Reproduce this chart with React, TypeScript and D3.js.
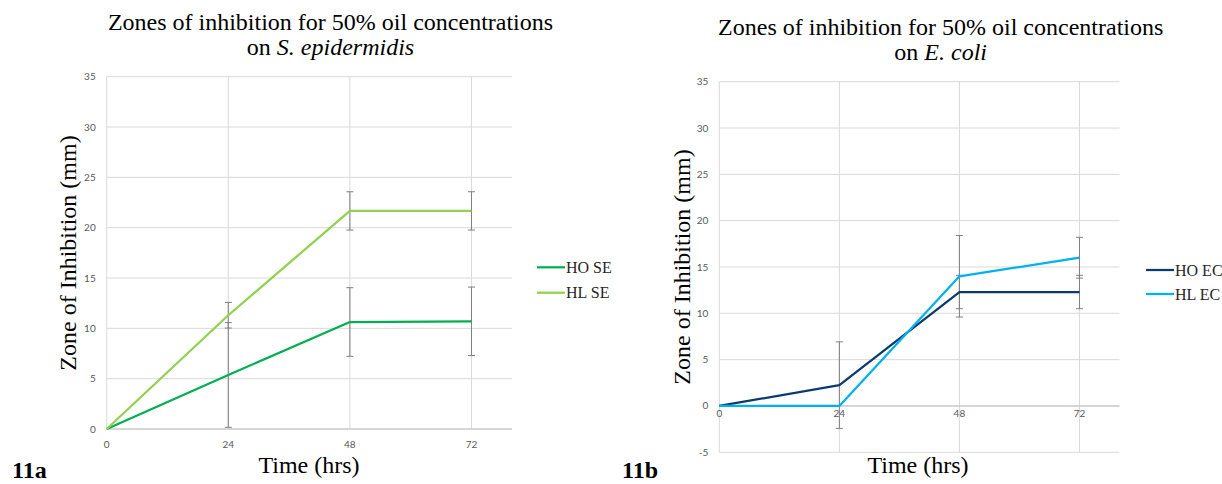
import React from 'react';
import * as d3 from 'd3';

// time points (hrs)
const hours = [0, 24, 48, 72];
const xTicks = [0, 24, 48, 72];

// S. epidermidis
const hoSE = [0, 5.37, 10.63, 10.7];
const hoSEErr = [0, 5.2, 3.41, 3.4];
const hlSE = [0, 11.3, 21.67, 21.67];
const hlSEErr = [0, 1.27, 1.9, 1.9];
const seTicks = [0, 5, 10, 15, 20, 25, 30, 35];

// E. coli
const hoEC = [0, 2.25, 12.3, 12.3];
const hoECErr = [0, 4.67, 1.8, 1.8];
const hlEC = [0, 0, 14.0, 16.0];
const hlECErr = [0, 0, 4.4, 2.2];
const ecTicks = [-5, 0, 5, 10, 15, 20, 25, 30, 35];

const SERIF = '"Liberation Serif", Tinos, "Times New Roman", serif';
const SANS = 'Lato, "Liberation Sans", sans-serif';

type Series = { name: string; values: number[]; err: number[]; color: string };

type PanelProps = {
  species: string;
  series: Series[];
  yTicks: number[];
  box: { left: number; right: number; top: number; bottom: number };
  titleX: number;
  titleY: number;
  yTitleX: number;
  yTitleY: number;
  xTitleX: number;
  xLabelDy: number;
  legendX: number;
  legendY: number;
  legendGap: number;
  tag: string;
  tagX: number;
};

function Panel(p: PanelProps) {
  const { box } = p;
  const x = d3.scaleLinear().domain([0, 80]).range([box.left, box.right]);
  const y = d3
    .scaleLinear()
    .domain([d3.min(p.yTicks) as number, d3.max(p.yTicks) as number])
    .range([box.bottom, box.top]);

  const line = d3
    .line<number>()
    .x((_, i) => x(hours[i]))
    .y((d) => y(d));

  const y0 = y(0);

  return (
    <g>
      {/* title */}
      <text x={p.titleX} y={p.titleY} textAnchor="middle" fontFamily={SERIF} fontSize={24} fill="#000">
        Zones of inhibition for 50% oil concentrations
      </text>
      <text x={p.titleX} y={p.titleY + 25} textAnchor="middle" fontFamily={SERIF} fontSize={24} fill="#000">
        on <tspan fontStyle="italic">{p.species}</tspan>
      </text>

      {/* grid */}
      {p.yTicks.map((t) => (
        <line key={'h' + t} x1={box.left} x2={box.right} y1={y(t)} y2={y(t)} stroke="#d9d9d9" strokeWidth={1} />
      ))}
      {xTicks.map((t) => (
        <line key={'v' + t} x1={x(t)} x2={x(t)} y1={box.top} y2={box.bottom} stroke="#d9d9d9" strokeWidth={1} />
      ))}
      <line x1={box.left} x2={box.right} y1={y0} y2={y0} stroke="#bfbfbf" strokeWidth={1.2} />

      {/* tick labels */}
      {p.yTicks.map((t) => (
        <text key={'yl' + t} x={box.left - 11} y={y(t) + 3.5} textAnchor="end" fontFamily={SANS} fontSize={10} fill="#595959">
          {t}
        </text>
      ))}
      {xTicks.map((t) => (
        <text key={'xl' + t} x={x(t)} y={y0 + p.xLabelDy} textAnchor="middle" fontFamily={SANS} fontSize={10} fill="#595959">
          {t}
        </text>
      ))}

      {/* error bars */}
      {p.series.map((s) =>
        s.values.map((v, i) => {
          if (!s.err[i]) return null;
          const cx = x(hours[i]);
          const hi = y(v + s.err[i]);
          const lo = y(v - s.err[i]);
          return (
            <g key={s.name + 'e' + i} stroke="#7f7f7f" strokeWidth={1}>
              <line x1={cx} x2={cx} y1={hi} y2={lo} />
              <line x1={cx - 3.5} x2={cx + 3.5} y1={hi} y2={hi} />
              <line x1={cx - 3.5} x2={cx + 3.5} y1={lo} y2={lo} />
            </g>
          );
        })
      )}

      {/* lines */}
      {p.series.map((s) => (
        <path key={s.name} d={line(s.values) || ''} fill="none" stroke={s.color} strokeWidth={2.25} strokeLinejoin="round" />
      ))}

      {/* legend */}
      {p.series.map((s, i) => (
        <g key={'lg' + s.name} transform={`translate(${p.legendX},${p.legendY + i * p.legendGap})`}>
          <line x1={0} x2={28} y1={0} y2={0} stroke={s.color} strokeWidth={2.25} />
          <text x={29} y={5.5} fontFamily={SERIF} fontSize={16} fill="#262626">
            {s.name}
          </text>
        </g>
      ))}

      {/* axis titles */}
      <text
        transform={`translate(${p.yTitleX},${p.yTitleY}) rotate(-90)`}
        textAnchor="middle"
        fontFamily={SERIF}
        fontSize={24}
        fill="#000"
      >
        Zone of Inhibition (mm)
      </text>
      <text x={p.xTitleX} y={473} textAnchor="middle" fontFamily={SERIF} fontSize={24} fill="#000">
        Time (hrs)
      </text>
      <text x={p.tagX} y={478} fontFamily={SERIF} fontWeight="bold" fontSize={24} fill="#000">
        {p.tag}
      </text>
    </g>
  );
}

export default function App() {
  return (
    <div style={{ position: 'absolute', left: 0, top: 0 }}>
      <svg width={1222} height={484} style={{ display: 'block', background: '#fff' }}>
        <Panel
          species="S. epidermidis"
          series={[
            { name: 'HO SE', values: hoSE, err: hoSEErr, color: '#00b050' },
            { name: 'HL SE', values: hlSE, err: hlSEErr, color: '#92d050' },
          ]}
          yTicks={seTicks}
          box={{ left: 106.7, right: 512, top: 76.7, bottom: 429 }}
          titleX={330.5}
          titleY={30}
          yTitleX={76}
          yTitleY={253}
          xTitleX={309}
          xLabelDy={18.5}
          legendX={537}
          legendY={267.3}
          legendGap={25.4}
          tag="11a"
          tagX={12}
        />
        <Panel
          species="E. coli"
          series={[
            { name: 'HO EC', values: hoEC, err: hoECErr, color: '#0b3a6e' },
            { name: 'HL EC', values: hlEC, err: hlECErr, color: '#00b0f0' },
          ]}
          yTicks={ecTicks}
          box={{ left: 719.3, right: 1119.5, top: 81.7, bottom: 452.3 }}
          titleX={940.7}
          titleY={35}
          yTitleX={690}
          yTitleY={267}
          xTitleX={918}
          xLabelDy={11.5}
          legendX={1146}
          legendY={270}
          legendGap={24}
          tag="11b"
          tagX={622}
        />
      </svg>
    </div>
  );
}
